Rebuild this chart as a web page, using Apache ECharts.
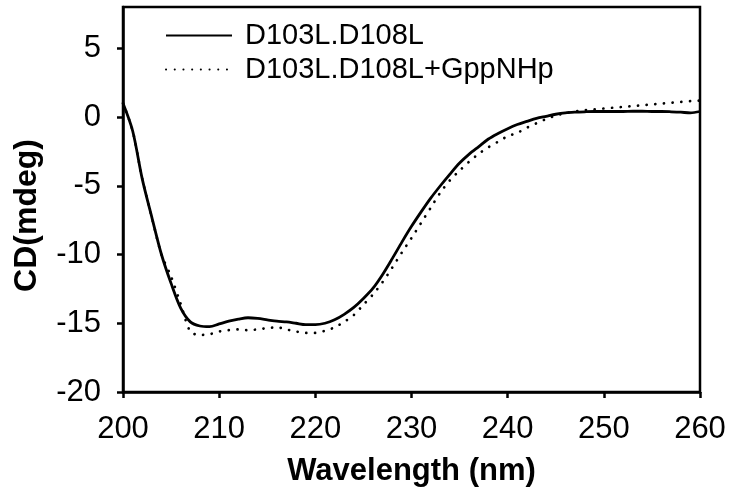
<!DOCTYPE html>
<html>
<head>
<meta charset="utf-8">
<script src="https://cdn.jsdelivr.net/npm/echarts@6/dist/echarts.min.js"></script>
<style>html,body{margin:0;padding:0;background:#fff}#c{width:731px;height:499px}</style>
</head>
<body>
<div id="c"></div>
<script>
const wavelengths = [200,201,202,203,204,205,206,207,208,209,210,211,212,213,214,215,216,217,218,219,220,221,222,223,224,225,226,227,228,229,230,231,232,233,234,235,236,237,238,239,240,241,242,243,244,245,246,247,248,249,250,251,252,253,254,255,256,257,258,259,260];
const cdApo = [1.0,-1.0,-4.5,-7.3,-10.0,-12.1,-13.9,-14.9,-15.2,-15.25,-15.05,-14.85,-14.7,-14.6,-14.65,-14.75,-14.85,-14.9,-15.0,-15.1,-15.1,-15.0,-14.75,-14.35,-13.85,-13.2,-12.45,-11.45,-10.3,-9.1,-7.95,-6.9,-5.9,-5.0,-4.15,-3.35,-2.7,-2.15,-1.6,-1.2,-0.85,-0.55,-0.32,-0.1,0.05,0.2,0.3,0.35,0.38,0.4,0.4,0.4,0.4,0.42,0.42,0.4,0.4,0.38,0.35,0.3,0.4];
const cdGpp = [1.0,-1.0,-4.5,-7.3,-10.0,-11.6,-13.6,-15.6,-15.85,-15.8,-15.6,-15.5,-15.45,-15.5,-15.45,-15.35,-15.3,-15.45,-15.6,-15.7,-15.7,-15.55,-15.3,-14.9,-14.4,-13.65,-12.9,-12.0,-10.95,-9.85,-8.8,-7.7,-6.6,-5.5,-4.6,-3.9,-3.25,-2.67,-2.2,-1.8,-1.4,-1.15,-0.78,-0.45,-0.15,0.1,0.28,0.4,0.5,0.56,0.62,0.68,0.74,0.8,0.86,0.92,0.97,1.03,1.09,1.15,1.2];
const yTicks = [-20,-15,-10,-5,0,5];
const xTicks = [200,210,220,230,240,250,260];
const seriesNames = ['D103L.D108L','D103L.D108L+GppNHp'];

const FONT = 'Liberation Sans, Arial, sans-serif';
const chart = echarts.init(document.getElementById('c'), null, {renderer:'canvas'});
chart.setOption({
  animation:false,
  backgroundColor:'#fff',
  grid:{left:123,right:31,top:7,bottom:107,show:true,borderColor:'#000',borderWidth:2.5,backgroundColor:'transparent'},
  legend:{
    data:seriesNames, orient:'vertical', left:160, top:16,
    itemWidth:66, itemHeight:14, itemGap:5,
    itemStyle:{color:'transparent',borderWidth:0,opacity:0},
    textStyle:{fontFamily:FONT,fontSize:29,color:'#000',padding:[0,0,0,8]},
    selectedMode:false
  },
  xAxis:{
    type:'value', min:200, max:260, interval:10,
    name:'Wavelength (nm)', nameLocation:'middle', nameGap:64,
    nameTextStyle:{fontFamily:FONT,fontSize:31,fontWeight:'bold',color:'#000'},
    axisLine:{show:true,onZero:false,lineStyle:{color:'#000',width:2.5}},
    axisTick:{show:true,inside:false,length:6,lineStyle:{color:'#000',width:2.5},customValues:xTicks},
    axisLabel:{fontFamily:FONT,fontSize:31,color:'#000',margin:22,customValues:xTicks},
    splitLine:{show:false}
  },
  yAxis:{
    type:'value', min:-20, max:8, interval:5,
    name:'CD(mdeg)', nameLocation:'middle', nameGap:80, nameRotate:90,
    nameTextStyle:{fontFamily:FONT,fontSize:32,fontWeight:'bold',color:'#000',padding:[0,32,0,0]},
    axisLine:{show:true,onZero:false,lineStyle:{color:'#000',width:2.5}},
    axisTick:{show:true,inside:false,length:6,lineStyle:{color:'#000',width:2.5},customValues:yTicks},
    axisLabel:{fontFamily:FONT,fontSize:31,color:'#000',margin:22,customValues:yTicks},
    splitLine:{show:false}
  },
  series:[
    {
      name:seriesNames[1], type:'line', showSymbol:false, symbol:'none', smooth:0.3,
      data:wavelengths.map((w,i)=>[w,cdGpp[i]]),
      lineStyle:{color:'#000',width:2.7,type:[0.1,8.6],cap:'round'},
      itemStyle:{color:'#000'}, z:2
    },
    {
      name:seriesNames[0], type:'line', showSymbol:false, symbol:'none', smooth:0.3,
      data:wavelengths.map((w,i)=>[w,cdApo[i]]),
      lineStyle:{color:'#000',width:2.8,type:'solid'},
      itemStyle:{color:'#000'}, z:3
    }
  ]
});
</script>
</body>
</html>
